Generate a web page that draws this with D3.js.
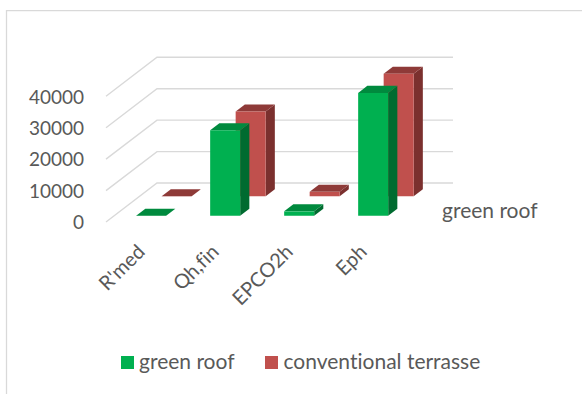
<!DOCTYPE html>
<html>
<head>
<meta charset="utf-8">
<script src="https://cdn.jsdelivr.net/npm/d3@7"></script>
<style>
html,body{margin:0;padding:0;background:#fff}
svg{display:block}
text{font-family:Lato,"Open Sans",sans-serif;fill:#595959;font-variant-ligatures:none}
</style>
</head>
<body>
<svg id="chart" width="582" height="394"></svg>
<script>
const categories = ["R'med", "Qh,fin", "EPCO2h", "Eph"];
const seriesNames = ["green roof", "conventional terrasse"];
const greenRoof = [30, 27200, 1400, 39100];
const conventionalTerrasse = [30, 27000, 1400, 39000];
const yTicks = [0, 10000, 20000, 30000, 40000];
const seriesFaces = [
  {front: "#00B050", side: "#006B30", top: "#008A3E"},
  {front: "#C0504D", side: "#7B302E", top: "#8E3A38"}
];

const svg = d3.select("#chart");

// Oblique projection: depth 0..1 runs from the front floor edge to the back wall
const depthDX = 51, depthDY = -39;
const y = d3.scaleLinear().domain([0, 40000]).range([222, 96.3]);
const x = d3.scaleBand().domain(categories).range([106, 402]);
const depth = d3.scaleBand().domain(seriesNames).range([0, 1]);
const barWidth = 30, barDepth = 0.18;
const project = (px, value, d) => [px + depthDX * d, y(value) + depthDY * d];
const poly = pts => pts.map(p => p.join(",")).join(" ");

// Chart frame, open at the right and the bottom
svg.append("path")
  .attr("d", "M6.5,394V10.5H582")
  .attr("fill", "none").attr("stroke", "#d9d9d9").attr("stroke-width", 1.25);

// Wall gridlines: side wall then back wall
const grid = svg.append("g").attr("fill", "none").attr("stroke", "#d9d9d9").attr("stroke-width", 1.4);
grid.selectAll("polyline").data(yTicks).join("polyline")
  .attr("points", v => poly([project(106, v, 0), project(106, v, 1), project(402, v, 1)]));

// Value axis
const yAxis = svg.append("g").attr("transform", "translate(84,0)")
  .call(d3.axisLeft(y).tickValues(yTicks).tickSize(0).tickPadding(0).tickFormat(d3.format("d")));
yAxis.select(".domain").remove();
yAxis.selectAll("text").attr("font-size", 19).style("font-family", "Lato").attr("dy", "0.36em");

// Bars: back series first so the front series overlaps it
[conventionalTerrasse, greenRoof].forEach((values, i) => {
  const name = seriesNames[1 - i];
  const faces = seriesFaces[1 - i];
  const d0 = depth(name) + (depth.bandwidth() - barDepth) / 2;
  const d1 = d0 + barDepth;
  const g = svg.append("g");
  categories.forEach((c, k) => {
    const x0 = x(c) + (x.bandwidth() - barWidth) / 2, x1 = x0 + barWidth, v = values[k];
    g.append("polygon").attr("fill", faces.side)
      .attr("points", poly([project(x1, 0, d0), project(x1, 0, d1), project(x1, v, d1), project(x1, v, d0)]));
    g.append("polygon").attr("fill", faces.top)
      .attr("points", poly([project(x0, v, d0), project(x1, v, d0), project(x1, v, d1), project(x0, v, d1)]));
    g.append("polygon").attr("fill", faces.front)
      .attr("points", poly([project(x0, 0, d0), project(x1, 0, d0), project(x1, v, d0), project(x0, v, d0)]));
  });
});

// Category labels, rotated and anchored at their upper-right end
svg.append("g").selectAll("text").data(categories).join("text")
  .attr("transform", c => `translate(${x(c) + x.bandwidth() / 2 - 4},246) rotate(-45)`)
  .attr("text-anchor", "end").attr("dy", "0.5em")
  .attr("font-size", 20).text(c => c);

// Series label on the depth axis
svg.append("text").attr("x", 442).attr("y", 218).attr("font-size", 21).text(seriesNames[0]);

// Legend
const legendSwatchX = [121, 265], legendTextX = [139, 283.5];
const legend = svg.append("g");
seriesNames.forEach((n, i) => {
  legend.append("rect").attr("x", legendSwatchX[i]).attr("y", 356).attr("width", 13).attr("height", 13)
    .attr("fill", seriesFaces[i].front);
  legend.append("text").attr("x", legendTextX[i]).attr("y", 369).attr("font-size", 21).text(n);
});
</script>
</body>
</html>
